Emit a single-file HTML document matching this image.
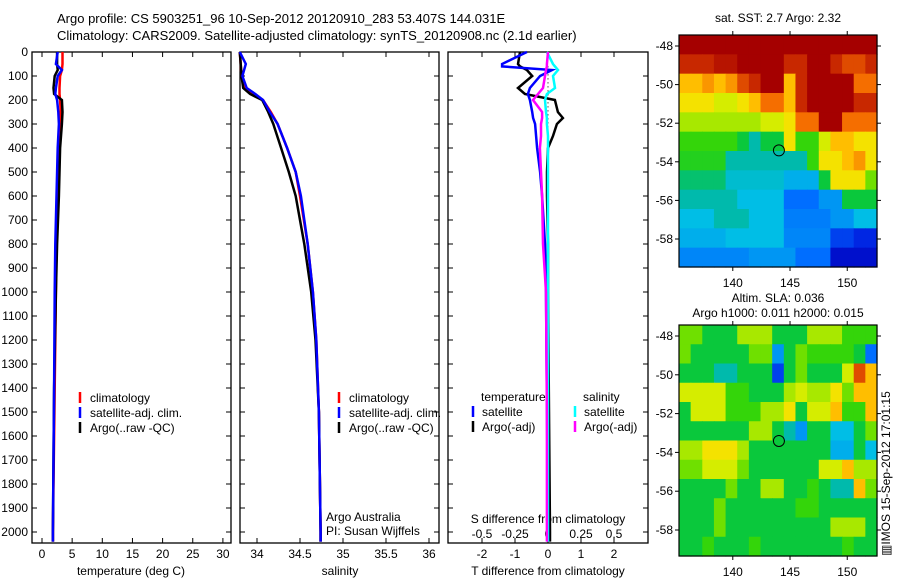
<!DOCTYPE html>
<html><head><meta charset="utf-8"><style>
body{margin:0;background:#fff;width:900px;height:580px;overflow:hidden}
svg{display:block;font-family:"Liberation Sans",sans-serif;font-size:12px}
</style></head><body>
<svg id="s" width="900" height="580" viewBox="0 0 900 580">
<text x="57" y="23" font-size="13">Argo profile: CS 5903251_96 10-Sep-2012 20120910_283 53.407S 144.031E</text>
<text x="57" y="40" font-size="13">Climatology: CARS2009. Satellite-adjusted climatology: synTS_20120908.nc (2.1d earlier)</text>
</svg>
<script>
// ---- data ----
const depthTicks=[0,100,200,300,400,500,600,700,800,900,1000,1100,1200,1300,1400,1500,1600,1700,1800,1900,2000];
const tempTicks=[0,5,10,15,20,25,30];
const salTicks=[34,34.5,35,35.5,36];
const salTickLabels=["34","34.5","35","35.5","36"];
const tdTicks=[-2,-1,0,1,2];
const sdTicks=[-0.5,-0.25,0,0.25,0.5];
const sdTickLabels=["-0.5","-0.25","0","0.25","0.5"];
const tDepth=[0,50,75,100,150,175,200,250,300,400,600,800,1000,1400,2000,2040];
const climT=[3.4,3.4,3.3,3.0,2.9,2.9,3.0,3.1,3.0,2.8,2.6,2.4,2.3,2.1,1.8,1.8];
const satT=[2.6,2.3,3.3,2.6,2.3,2.2,2.5,2.7,2.8,2.6,2.4,2.2,2.1,2.0,1.8,1.8];
const argoT=[2.5,2.5,2.6,2.1,1.9,2.0,3.3,3.4,3.3,3.0,2.8,2.5,2.3,2.0,1.8,1.8];
const sDepth=[0,50,100,150,175,200,250,300,400,500,600,800,1000,1200,1500,2000,2040];
const climS=[33.80,33.81,33.82,33.85,33.95,34.07,34.16,34.24,34.35,34.45,34.50,34.59,34.65,34.69,34.72,34.74,34.74];
const satS=[33.80,33.87,33.83,33.88,33.98,34.07,34.15,34.24,34.35,34.45,34.51,34.59,34.65,34.69,34.72,34.74,34.74];
const argoS=[33.80,33.81,33.82,33.84,33.92,34.06,34.13,34.19,34.28,34.37,34.45,34.55,34.63,34.68,34.72,34.74,34.74];
const dDepth=[0,50,60,75,100,150,175,200,250,275,300,350,400,500,600,800,1000,1500,2000,2040];
const satTd=[-0.64,-1.39,-1.39,0.12,-0.24,-0.55,-0.61,-0.55,-0.48,-0.45,-0.39,-0.36,-0.33,-0.24,-0.18,-0.09,-0.06,-0.03,0,0];
const argoTd=[-0.85,-0.91,-0.85,-0.64,-0.48,-0.91,-0.70,0.21,0.30,0.45,0.27,0.15,0,-0.03,-0.03,0,0,0.03,0.06,0.06];
const satSd=[-0.008,0.038,0.053,0.076,0.038,0.053,-0.008,-0.023,-0.015,-0.008,-0.008,0,0,0,0,0,0,0,0,0];
const argoSd=[0,-0.008,-0.008,-0.015,-0.023,-0.038,-0.076,-0.114,-0.045,-0.045,-0.053,-0.053,-0.061,-0.053,-0.045,-0.038,-0.015,-0.008,-0.008,-0.008];
const lonTicks=[140,145,150];
const latTicks=[-48,-50,-52,-54,-56,-58];
const floatLon=144.03, floatLat=-53.41;
const sstGrid=[
[10,10,10,10,10,10,10,10,10,10,10,10,10,10,10,10,10],
[9,9,9,9.5,9.5,10,10,10,10,9,9,10,10,9,8.5,8.5,9],
[7,7,7.5,7,7.5,8.5,9,10,10,7,9,10,10,10,10,8,8],
[6.5,6.5,6.5,6,6,6.5,7,8,8,7,9,10,10,10,10,9,9],
[5.5,5.5,5.5,5.5,5.5,5.5,5.5,6,6,6.5,8,8,10,10,8,8,8],
[4.5,4.5,4.5,4.5,4.5,4,3.5,4,4,6.5,4.5,4.5,6,7,7,6.5,6.5],
[4.3,4.3,4.3,4.3,3.5,3.5,3.5,3.5,3.5,3.5,3.5,4.5,6.5,6.5,7,7.5,6.5],
[3.8,3.8,3.8,3.8,3.2,3.2,3.2,3.2,3.2,2.8,2.8,2.8,4,6.5,6.5,6.5,5],
[3.5,3.5,3.5,3.5,3.5,3,3,3,3,2,2,2,2.5,2.5,4,4,4],
[3,3,3,3.5,3.5,3.5,3,3,3,2.2,2.2,2.2,2.2,2.5,2.5,3,3],
[2.8,2.8,2.8,2.8,3,3,3,3,3,2.3,2.3,2.3,2.3,1.5,1.5,1.2,1.2],
[2.3,2.3,2.3,2.3,2.3,2.3,2.5,2.5,2.5,2.5,2,2,2,0.8,0.8,0.8,0.8]];
const slaGrid=[
[5,5,4,4,4,5.5,5.5,5.5,4,4,4,5.5,5.5,5.5,4.5,4.5,4.5],
[5,4,4,4,4,4,5,5,2.5,4,5,4.5,4.5,4.5,4.5,4,2],
[4,4,4,3.5,3.5,4,4,4,1.5,4,5,4,4,4,6,8.5,7],
[6,6,6,6,4.5,4.5,4,4,4,5.5,6,5.5,5.5,6.5,5,7,7],
[4,6,6,6,4.5,4.5,4.5,5.5,5.5,6.5,4,6,6,7,4.5,4.5,7],
[4,4,4,4,4,4,5.5,5.5,4,3.5,2.5,4,4,3,3,4,5],
[5.5,5.5,6.5,6.5,6.5,5.5,4,4,4,4,4,4,4,2.8,2.8,4,3],
[5,5,6,6,6,5,4,4,4,4,4,4,6,6,7,5.5,5.5],
[4,4,4,4,5,4,4,5.5,5.5,4,4,4.5,4,3.5,3.5,7,5],
[4,4,4,5,4,4,4,4,4,4,4.5,4.5,4,4,4,4,4],
[4,4,4,5,4,4,4,4,4,4,4,4,4,5.5,5.5,5.5,4],
[4,4,4.5,4,4,4,4.5,4,4,4,4,4,4,4,4.5,4,4]];

// ---- helpers ----
const S=document.getElementById('s'),NS='http://www.w3.org/2000/svg';
function el(t,a,txt){const e=document.createElementNS(NS,t);for(const k in a)e.setAttribute(k,a[k]);if(txt!==undefined)e.textContent=txt;S.appendChild(e);return e;}
const TOP=52,BOT=543;
const yD=d=>TOP+d*0.24;
const xT=v=>42+v*6.03;
const xS=v=>257+(v-34)*86;
const xTd=v=>548+v*33;
const xSd=v=>548+v*132;
function frame(x0,x1,name){
  const r=el('rect',{x:x0,y:TOP,width:x1-x0,height:BOT-TOP,fill:'none',stroke:'#000','stroke-width':1.3});
  
  
}
function line(xs,ds,xf,col,w,name){
  const p=xs.map((v,i)=>xf(v).toFixed(1)+','+yD(ds[i]).toFixed(1)).join(' ');
  const e=el('polyline',{points:p,fill:'none',stroke:col,'stroke-width':w,'stroke-linejoin':'miter'});
  
  
}
function xticks(ticks,labels,xf,ly,name){
  ticks.forEach((t,i)=>{
    el('line',{x1:xf(t),x2:xf(t),y1:TOP,y2:TOP+5,stroke:'#000'});
    el('line',{x1:xf(t),x2:xf(t),y1:BOT,y2:BOT-5,stroke:'#000'});
    const tx=el('text',{x:xf(t),y:ly,'text-anchor':'middle'},labels?labels[i]:String(t));
    
    
  });
}
function txt(x,y,s,name,anchor){
  const t=el('text',{x:x,y:y,'text-anchor':anchor||'start'},s);
  
  
  return t;
}
function legMark(x,y,col,name){
  const e=el('line',{x1:x,x2:x,y1:y-10,y2:y+1,stroke:col,'stroke-width':2.5});
  
  
}

// ---- panels ----
[[32,231,'temperature-panel'],[240,439,'salinity-panel'],[448,648,'difference-panel']].forEach(p=>frame(p[0],p[1],p[2]));
depthTicks.forEach(d=>{
  [[32,231],[240,439],[448,648]].forEach(p=>{
    el('line',{x1:p[0],x2:p[0]+5,y1:yD(d),y2:yD(d),stroke:'#000'});
    el('line',{x1:p[1],x2:p[1]-5,y1:yD(d),y2:yD(d),stroke:'#000'});
  });
  const t=el('text',{x:28,y:yD(d)+4,'text-anchor':'end'},String(d));
  
  
});
xticks(tempTicks,null,xT,558,'temperature-tick-label');
xticks(salTicks,salTickLabels,xS,558,'salinity-tick-label');
xticks(tdTicks,null,xTd,558,'t-diff-tick-label');
sdTicks.forEach((t,i)=>{const e=el('text',{x:xSd(t),y:538,'text-anchor':'middle'},sdTickLabels[i]);});
txt(131,575,'temperature (deg C)','temperature-axis-title','middle');
txt(340,575,'salinity','salinity-axis-title','middle');
txt(548,575,'T difference from climatology','t-diff-axis-title','middle');
txt(548,523,'S difference from climatology','s-diff-axis-title','middle');

const z=el('line',{x1:548,x2:548,y1:yD(60),y2:yD(330),stroke:'#000','stroke-dasharray':'1,3'});



line(climT,tDepth,xT,'#f00',2.5,'climatology-temperature-line');
line(argoT,tDepth,xT,'#000',2.5,'argo-temperature-line');
line(satT,tDepth,xT,'#00f',2.5,'satellite-temperature-line');
line(climS,sDepth,xS,'#f00',2.5,'climatology-salinity-line');
line(argoS,sDepth,xS,'#000',2.5,'argo-salinity-line');
line(satS,sDepth,xS,'#00f',2.5,'satellite-salinity-line');
line(argoTd,dDepth,xTd,'#000',2.5,'argo-t-diff-line');
line(satTd,dDepth,xTd,'#00f',2.5,'satellite-t-diff-line');
line(satSd,dDepth,xSd,'#0ff',2.5,'satellite-s-diff-line');
line(argoSd,dDepth,xSd,'#f0f',2.5,'argo-s-diff-line');

[[80,'#f00','climatology'],[80,'#00f','satellite-adj. clim.'],[80,'#000','Argo(..raw -QC)']].forEach((l,i)=>{
  legMark(l[0],402+i*15,l[1],'temperature-legend-marker');
  txt(l[0]+10,402+i*15,l[2],'temperature-legend-entry');
});
[[339,'#f00','climatology'],[339,'#00f','satellite-adj. clim.'],[339,'#000','Argo(..raw -QC)']].forEach((l,i)=>{
  legMark(l[0],402+i*15,l[1],'salinity-legend-marker');
  txt(l[0]+10,402+i*15,l[2],'salinity-legend-entry');
});
txt(481,401,'temperature','diff-legend-header-temperature');
txt(583,401,'salinity','diff-legend-header-salinity');
legMark(473,416,'#00f','t-diff-legend-marker');txt(482,416,'satellite','t-diff-legend-satellite');
legMark(473,431,'#000','t-diff-legend-marker');txt(482,431,'Argo(-adj)','t-diff-legend-argo');
legMark(575,416,'#0ff','s-diff-legend-marker');txt(584,416,'satellite','s-diff-legend-satellite');
legMark(575,431,'#f0f','s-diff-legend-marker');txt(584,431,'Argo(-adj)','s-diff-legend-argo');
txt(326,521,'Argo Australia','credit-line-1');
txt(326,535,'PI: Susan Wijffels','credit-line-2');

// ---- maps ----
const stops=[[0,0,0,140],[1,0,20,220],[2,0,110,255],[3,0,190,230],[3.6,0,185,160],[4,10,200,60],[4.6,60,215,0],[5.3,150,230,0],[6.3,240,240,0],[7,255,190,0],[8,245,110,0],[9,200,40,0],[10,165,0,0]];
function cmap(v){for(let i=1;i<stops.length;i++){if(v<=stops[i][0]){const a=stops[i-1],b=stops[i],f=(v-a[0])/(b[0]-a[0]);return 'rgb('+[1,2,3].map(k=>Math.round(a[k]+f*(b[k]-a[k]))).join(',')+')';}}return 'rgb(165,0,0)';}
function drawMap(grid,y0,y1,lat48y,lat58y,name,t1,t2){
  const x0=679,x1=877,lon0=135.3,lon1=152.6;
  const xL=lon=>x0+(lon-lon0)*(x1-x0)/(lon1-lon0);
  const py=(lat58y-lat48y)/10;
  const yL=lat=>lat48y+(-48-lat)*py;
  const rows=grid.length,cols=grid[0].length;
  const cw=(x1-x0)/cols,ch=(y1-y0)/rows;
  grid.forEach((row,r)=>row.forEach((v,c)=>{
    const e=el('rect',{x:(x0+c*cw).toFixed(2),y:(y0+r*ch).toFixed(2),width:(cw+0.6).toFixed(2),height:(ch+0.6).toFixed(2),fill:cmap(v)});
    
    
  }));
  const f=el('rect',{x:x0,y:y0,width:x1-x0,height:y1-y0,fill:'none',stroke:'#000','stroke-width':1.2});
  
  
  lonTicks.forEach(l=>{
    el('line',{x1:xL(l),x2:xL(l),y1:y0,y2:y0-4,stroke:'#000'});
    el('line',{x1:xL(l),x2:xL(l),y1:y1,y2:y1+4,stroke:'#000'});
    const t=el('text',{x:xL(l),y:y1+20,'text-anchor':'middle'},String(l));
    
    
  });
  latTicks.forEach(l=>{
    el('line',{x1:x0,x2:x0-4,y1:yL(l),y2:yL(l),stroke:'#000'});
    el('line',{x1:x1,x2:x1+4,y1:yL(l),y2:yL(l),stroke:'#000'});
    const t=el('text',{x:x0-6,y:yL(l)+4,'text-anchor':'end'},String(l));
    
    
  });
  const c=el('circle',{cx:xL(floatLon),cy:yL(floatLat),r:5.5,fill:'none',stroke:'#000','stroke-width':1});
  
  
  txt(778,t1[1],t1[0],name+'-title','middle');
  if(t2)txt(778,t2[1],t2[0],name+'-subtitle','middle');
}
drawMap(sstGrid,35,267,46,239,'sst-map',['sat. SST: 2.7 Argo: 2.32',22]);
drawMap(slaGrid,325,556,336,530,'sla-map',['Altim. SLA: 0.036',302],['Argo h1000: 0.011 h2000: 0.015',317]);
const v=el('text',{x:0,y:0,'text-anchor':'start',transform:'translate(890,556) rotate(-90)'},'\u25A5IMOS 15-Sep-2012 17:01:15');


</script>
</body></html>
